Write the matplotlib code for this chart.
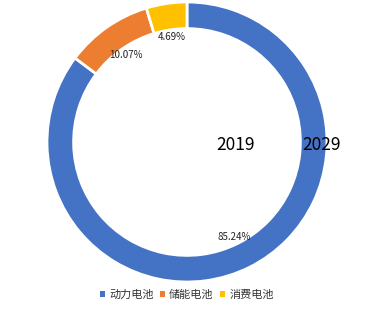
import numpy as np
import matplotlib
matplotlib.use('Agg')
import matplotlib.pyplot as plt
from matplotlib.patches import Patch

plt.rcParams['font.family'] = ['Noto Sans CJK SC', 'DejaVu Sans']

# Dados
categorias = ['动力电池', '储能电池', '消费电池']
valores = [85.24, 10.07, 4.69]
cores = ['#4472C4', '#ED7D31', '#FFC000']
anos = ['2019', '2029']

fig = plt.figure(figsize=(3.77, 3.31), dpi=100)
W, H = 377, 331
cx, cy, r = 187, 142, 140
ax = fig.add_axes([(cx - r) / W, (H - cy - r) / H, 2 * r / W, 2 * r / H])

wedges, textos, autotextos = ax.pie(
    valores, colors=cores, startangle=90, counterclock=False,
    radius=1, autopct='%.2f%%', pctdistance=0.76,
    wedgeprops=dict(width=0.19, edgecolor='white', linewidth=2),
    textprops=dict(fontsize=7, color='#222222'))

ax.set_xlim(-1, 1)
ax.set_ylim(-1, 1)
ax.set_aspect('equal')

# Rótulos dos anos
ax.text(0.35, -0.02, anos[0], ha='center', va='center', fontsize=12.5, color='black')
ax.text(0.96, -0.02, anos[1], ha='center', va='center', fontsize=12.5, color='black')

# Legenda
handles = [Patch(facecolor=c, edgecolor='none') for c in cores]
fig.legend(handles, categorias, loc='center', bbox_to_anchor=(0.495, 1 - 295 / H),
           ncol=3, frameon=False, fontsize=8, handlelength=0.5, handleheight=0.5,
           handletextpad=0.35, columnspacing=0.55, labelcolor='#333333')

plt.savefig('out.png', dpi=100)
